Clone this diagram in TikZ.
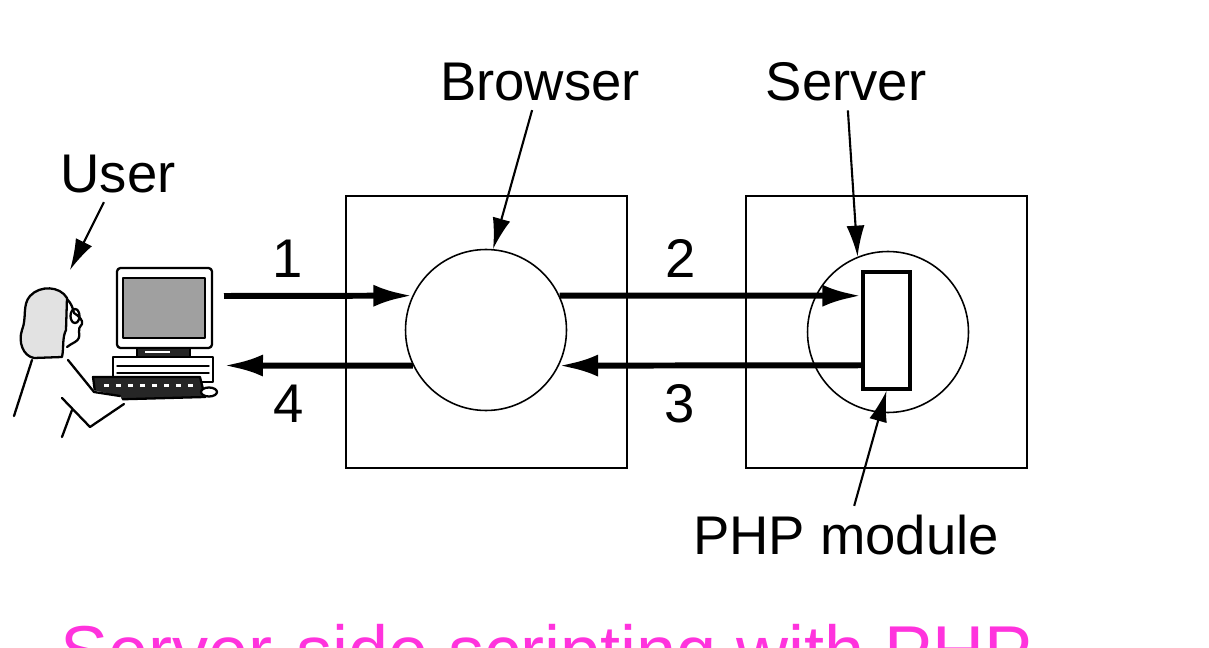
\documentclass[tikz,border=0pt]{standalone}
\usepackage{fontspec}
\setmainfont{Liberation Sans}
\usetikzlibrary{arrows.meta,positioning}

\definecolor{hairgray}{RGB}{226,226,226}
\definecolor{screengray}{RGB}{160,160,160}
\definecolor{titlepink}{RGB}{255,51,221}

\def \circlesize {3.22cm}
\def \labelfont {\fontsize{31}{37}\selectfont}

\tikzset{
  box/.style={draw, line width=1.1pt, minimum width=5.62cm, minimum height=5.44cm},
  proc/.style={draw, circle, line width=0.9pt, minimum size=\circlesize},
  module/.style={draw, line width=2pt, minimum width=0.94cm, minimum height=2.34cm},
  flow/.style={line width=3.4pt, -{Latex[length=0.78cm,width=0.44cm]}},
  pointer/.style={line width=1.2pt, -{Latex[length=0.62cm,width=0.36cm]}},
  tag/.style={font=\labelfont, inner sep=5pt},
  num/.style={font=\labelfont, inner sep=0pt},
}

\begin{document}
\begin{tikzpicture}[x=0.02cm, y=-0.02cm]
\useasboundingbox (0,0) rectangle (1209,648);

% client and server machines
\node[box] (clientbox) at (486.5,332) {};
\node[box] (serverbox) at (886.5,332) {};
\node[proc] (browser) at (486,330) {};
\node[proc] (server) at (888,332) {};
\node[module] (php) at (886.5,330.5) {};

% the user at the desk
\begin{scope}[line width=1.3pt, line join=round, line cap=round]
\draw[fill=hairgray] (67,298) .. controls (60,286) and (40,285) .. (30,296)
  .. controls (22,305) and (27,318) .. (22,330) .. controls (18,342) and (23,356) .. (34,358)
  -- (62,357) .. controls (64,348) and (62,338) .. (66,330) -- cycle;
\draw (67,299) .. controls (71,303) and (73,308) .. (74,313) .. controls (79,316) and (83,320) .. (82,324)
  .. controls (80,327) and (78,329) .. (79,332) .. controls (80,336) and (79,340) .. (75,342)
  .. controls (72,344) and (69,345) .. (67,347);
\draw (75,316) ellipse [x radius=0.09cm, y radius=0.14cm];
\draw (32,360) -- (14,416);
\draw (72,410) -- (62,437);
% monitor, case and keyboard
\draw[fill=white, rounded corners=2pt] (117,268) rectangle (212,348);
\draw[fill=screengray] (123,278) rectangle (205,338);
\draw[fill=black!85] (137,348) rectangle (190,357);
\fill[white] (145,351) rectangle (170,353);
\draw[fill=white] (113,357) rectangle (213,382);
\draw[line width=0.8pt] (117,366) -- (209,366);
\draw[line width=0.8pt] (117,373) -- (209,373);
\draw[fill=black!85] (93,377) -- (200,377) -- (205,397) -- (96,400) -- cycle;
\foreach \k in {0,...,7}
  \fill[white] (104+\k*12,384) rectangle ++(5,3);
\draw[fill=white] (209,392) ellipse [x radius=0.16cm, y radius=0.09cm];
% arm reaching the keys
\fill[white] (70,360) -- (92,390) -- (120,396) -- (124,404) -- (90,427) -- (62,398) -- cycle;
\draw (68,360) -- (94,392) -- (120,396);
\draw (62,398) -- (90,427) -- (124,404);
\end{scope}
\coordinate (usertip) at (70,270);
\coordinate (userout) at (224,296);
\coordinate (userin) at (224,365.5);

% labels
\node[tag] (browserlbl) at (540,82) {Browser};
\node[tag] (serverlbl) at (846,82) {Server};
\node[tag] (userlbl) at (118,174) {User};
\node[tag] (phplbl) at (846,535) {PHP module};

\draw[pointer] (browserlbl) -- (browser.85);
\draw[pointer] (serverlbl) -- (server.112);
\draw[pointer] (userlbl) -- (usertip);
\draw[pointer] (phplbl) -- (php.south);

% request and reply
\draw[flow] (userout) -- node[num, above=0.3cm, pos=0.34] (n1) {1} (browser.155);
\draw[flow] (browser.25) -- node[num, above=0.3cm, pos=0.4] (n2) {2} (php.126);
\draw[flow] (php.234) -- node[num, below=0.32cm, pos=0.6] (n3) {3} (browser.334);
\draw[flow] (browser.206) -- node[num, below=0.32cm, pos=0.66] (n4) {4} (userin);

\node[font=\fontsize{41}{49}\selectfont, text=titlepink, anchor=base west, inner sep=0pt] (title)
  at (60,676) {Server-side scripting with PHP};
\end{tikzpicture}
\end{document}
